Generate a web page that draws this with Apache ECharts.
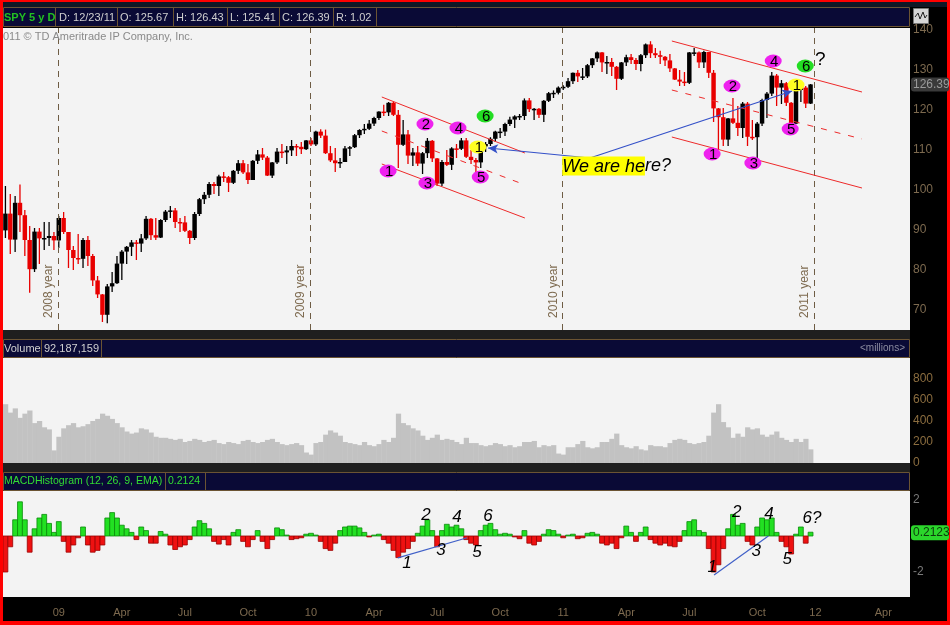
<!DOCTYPE html>
<html><head><meta charset="utf-8">
<script src="https://cdn.jsdelivr.net/npm/echarts@6/dist/echarts.min.js"></script>
<style>html,body{margin:0;padding:0;background:#000;}#c{width:950px;height:625px;}</style>
</head><body><div id="c"></div>
<script>
// ---- DATA (weekly, index 0 = week ending 2008-10-17) ----
const priorClose = 89.9;
const closes = [
94.1,87.6,96.8,93.7,87.5,80.2,89.6,87.9,88.0,88.5,
87.4,93.0,89.5,85.0,83.0,82.8,87.5,83.5,77.4,73.9,
68.8,75.9,76.7,81.6,84.6,85.8,86.9,86.6,87.9,92.8,
88.7,88.1,92.5,94.6,94.9,92.0,91.9,89.8,88.0,94.0,
97.7,98.8,101.5,101.0,103.4,103.2,101.8,104.8,106.7,104.4,
102.5,107.3,108.9,108.1,103.6,106.9,109.6,109.4,109.9,111.0,
110.8,110.2,112.4,111.4,114.6,113.6,109.2,107.4,106.7,107.0,
110.4,110.7,113.7,115.0,115.3,116.6,118.0,119.6,119.4,121.8,
118.8,111.3,113.9,108.6,109.4,106.6,109.2,112.3,107.9,101.6,
107.0,106.3,110.4,110.3,112.4,108.3,107.5,106.9,110.9,111.5,
112.8,114.6,114.6,116.5,117.6,118.4,118.5,122.4,120.2,120.3,
118.8,122.3,124.2,124.3,125.6,125.8,127.2,129.3,128.4,128.4,
131.2,132.9,134.4,131.9,132.0,130.8,127.8,131.9,133.2,132.5,
131.5,133.7,136.4,134.2,133.7,133.3,132.4,130.4,127.6,127.1,
126.8,134.4,134.4,131.9,134.5,129.3,120.4,118.2,112.6,117.9,
116.8,115.5,121.6,113.3,113.2,116.6,122.5,124.1,128.6,125.6,
126.7,121.8,116.6,125.0,125.6,121.6,126.4];
const highs = [
101,99,98.5,101.4,95,91,90.5,90.5,92,92,
89.5,93.5,94.5,89.5,86,89,88,88.5,84,78.5,
74,76.5,79.5,83.5,85,86,87.5,87.5,89,93.5,
93,93,92.7,95,96,95.5,93,93.5,90,94.5,
98,99.5,102,102,103.8,104.5,103.5,105,107.5,107.5,
106.5,107.5,110,110.5,108.5,107,110.5,111.5,111,112.5,
111.5,112,112.5,113,114.8,115.2,115.1,111,110.5,108,
111,111,114,115.2,116.5,117.5,118.3,119.7,121.3,122,
122.1,120,117.5,115,110.5,111,109.5,113,112.5,108,
107.5,110,110.7,111.5,113,113,110,108,111,112,
113.2,114.8,115.5,116.8,118.3,118.7,119,122.9,123,120.5,
120.5,122.5,124.5,124.9,125.9,126.2,128,129.4,130,130.5,
131.5,133,134.6,134.5,133.5,133,131,132,133.8,134,
133,134,136.6,137.2,135.5,134.8,133.5,134,130.5,130,
129.5,134.5,135.5,134.6,134.8,134.5,130,120.5,120.5,118,
123,121,122,122,117.5,117,122.8,124.5,129.5,129,
127.5,127,122,125.5,126.5,126,126.5];
const lows = [
88,84,84.5,89.5,83.5,74.3,79.5,81.5,85,86,
85,85.5,89,80.5,80,81.5,80.5,81,76,73,
67,66.7,74.5,76.5,77.5,81.5,83.5,82.5,84.5,87.5,
87.5,87.5,88,92,93,90.5,89.5,89.5,86.5,87.5,
93.5,96.5,98,99,98.5,102,99.5,101.5,104,104,
101.5,102.5,106.5,107.5,103.5,103,106.5,108,106.5,108.5,
108.5,109,110,111,111,113,109,107,104.5,105.5,
107,108.5,110.5,113,114,115,116,117.5,118.5,118.5,
118.5,105.5,111,106.5,106,106,104,108,107,101,
101,106,105,108,110,108,106.5,104,105.5,109.5,
111,112,113,113.5,116,115.5,117.5,117.5,119.5,117.5,
118,117,122,123,123.9,125,125.5,126.5,127,127.5,
128,130.5,132,129.5,129,128.5,125,127.5,131,131.5,
130,129.7,133,133,133,131.5,131,129.5,127.5,126,
126,126.5,133.5,130.5,130.5,128,117,110,111,111,
116.5,113.5,113,111,112.5,107.4,116,118,123.5,121,
121.5,121,115.6,116.5,122,120.5,121.5];
const volumes = [ // millions
560,480,520,430,470,500,380,400,340,320,
120,250,330,360,380,340,350,370,400,420,
470,450,420,380,340,300,280,290,330,320,
290,250,240,240,230,220,230,200,210,230,
220,200,210,220,190,180,200,190,180,210,
220,200,190,200,220,230,200,180,170,180,
190,170,100,80,190,200,270,310,290,260,
200,190,180,170,200,170,160,180,220,200,
240,470,380,360,330,310,260,220,240,270,
220,230,220,200,180,240,190,190,170,160,
170,190,180,160,170,150,160,200,200,210,
150,170,160,170,90,80,150,150,180,210,
150,140,150,200,200,230,280,170,150,140,
160,130,120,170,160,160,150,190,220,230,
220,190,180,190,200,260,480,560,390,340,
240,280,250,340,320,330,270,250,270,300,
240,220,200,230,200,230,130];
const macdHist = [
-2.0,-0.6,0.9,1.9,0.9,-0.9,0.4,1.0,1.2,0.7,
0.2,0.8,-0.3,-0.9,-0.5,-0.1,0.5,-0.5,-0.9,-0.8,
-0.5,1.0,1.3,1.0,0.6,0.4,0.2,-0.2,0.5,0.3,
-0.4,-0.4,0.25,0.1,-0.5,-0.75,-0.6,-0.5,-0.2,0.5,
0.85,0.7,0.4,-0.3,-0.45,-0.2,-0.5,0.2,0.35,-0.3,
-0.6,-0.2,0.3,-0.3,-0.7,-0.2,0.45,0.35,0.05,-0.2,
-0.15,-0.1,0.1,0.15,0.05,-0.3,-0.7,-0.8,-0.4,0.3,
0.5,0.55,0.55,0.45,0.2,-0.05,0.05,0.1,-0.2,-0.4,
-0.8,-1.2,-0.9,-0.7,-0.3,0.15,0.55,0.9,0.3,-0.6,
0.3,0.65,0.5,0.6,0.4,-0.2,-0.4,-0.5,0.3,0.6,
0.7,0.35,0.1,0.15,0.1,-0.05,-0.15,0.3,-0.4,-0.5,
-0.3,0.1,0.35,0.3,0.1,-0.1,0.05,0.1,-0.15,-0.1,
0.15,0.2,0.1,-0.4,-0.5,-0.4,-0.7,-0.1,0.55,0.2,
-0.3,0.2,0.5,-0.2,-0.4,-0.5,-0.4,-0.55,-0.6,-0.3,
0.3,0.8,0.9,0.3,0.2,-0.7,-2.0,-1.6,-0.7,0.4,
1.2,0.6,0.7,-0.3,-0.5,0.5,1.0,0.9,1.0,0.2,
-0.3,-0.6,-1.0,0.1,0.5,-0.4,0.21];
const totalWeeks = 187;
const xTickIdx = [11,24,37,50,63,76,89,102,115,128,141,155,167,181];
const xTickLabels = ['09','Apr','Jul','Oct','10','Apr','Jul','Oct','11','Apr','Jul','Oct','12','Apr'];
const yearLineIdx = [10.8, 62.8, 114.8, 166.7];
const yearLabels = ['2008 year','2009 year','2010 year','2011 year'];
const priceTicks = [70,80,90,100,110,120,130,140];
const volTicks = [0,200,400,600,800];
const macdTicks = [-2,2];
const lastClose = 126.39, lastMacd = 0.2123;
const headerTexts = ['SPY 5 y D','D: 12/23/11','O: 125.67','H: 126.43','L: 125.41','C: 126.39','R: 1.02'];
const volHeader = ['Volume','92,187,159','<millions>'];
const macdHeader = ['MACDHistogram (12, 26, 9, EMA)','0.2124'];
const copyright = '011 \u00a9 TD Ameritrade IP Company, Inc.';
// annotations: [label, weekIdx, price, kind]
const wavePts = [
 ['1',78.9,104.75,'m'],['2',86.5,116.5,'m'],['3',86.9,101.75,'m'],['4',93.3,115.5,'m'],['5',97.9,103.25,'m'],['6',98.9,118.5,'g'],['1',97.4,110.75,'y'],
 ['1',145.7,109,'m'],['2',149.8,126,'m'],['3',154.1,106.75,'m'],['4',158.3,132.25,'m'],['5',161.8,115.25,'m'],['6',164.9,131,'g'],['1',163.0,126.25,'y']];
const channelLines = [ // [[x1,y1],[x2,y2], dashed?]
 [[77.6,123.25],[107.1,109.25],0],[[77.6,106.5],[107.1,93.0],0],[[77.6,114.75],[106.1,101.75],1],
 [[137.4,137.25],[176.6,124.5],0],[[137.4,113.25],[176.6,100.5],0],[[137.4,125],[176.6,112.75],1]];
const priceArrows = [[[120.5,108],[99.5,110.5]],[[120.5,108],[162.2,124.75]]];
const noteText = ['We are he','re?'];
const notePos = [114.8,106];
const questionPos = [168.0,132.5];
const macdPts = [
 ['1',82.8,-1.5],['2',86.7,1.17],['3',89.8,-0.78],['4',93.1,1.05],['5',97.2,-0.9],['6',99.5,1.1],
 ['1',145.7,-1.72],['2',150.8,1.33],['3',154.8,-0.83],['4',157.4,1.22],['5',161.2,-1.28],['6?',166.3,1.0]];
const macdLines = [[[-0.6,-2.9],[10.3,0.33]],[[80.9,-1.22],[95.2,-0.1]],[[146.1,-2.17],[157.3,0]]];

// ---- CHART ----
const FONT = '"Liberation Sans", Arial, sans-serif';
const BROWN = '#7d6a4f';
const chart = echarts.init(document.getElementById('c'), null, {renderer:'canvas'});
const kindColor = {m:'#ee22ee', g:'#22dd22', y:'#ffff22'};
const candleData = closes.map((c,i)=>[i, i?closes[i-1]:priorClose, c, highs[i], lows[i]]);
const grids = [
 {left:3, top:28, width:907, height:302},
 {left:3, top:358, width:907, height:105},
 {left:3, top:491, width:907, height:106}].map(g=>Object.assign(g,{show:true, backgroundColor:'#f3f3f3', borderWidth:0}));
const xAxes = [0,1,2].map(g=>({
  type:'value', gridIndex:g, min:-0.5, max:totalWeeks-0.5, show:true,
  axisLine:{show:false}, axisTick:{show:false}, splitLine:{show:false},
  axisLabel: g===2 ? {show:true, customValues:xTickIdx, formatter:v=>xTickLabels[xTickIdx.indexOf(v)], color:BROWN, fontSize:11, fontFamily:FONT, margin:10} : {show:false}
}));
function yAx(g,min,max,ticks,color){
  return {type:'value', gridIndex:g, position:'right', min:min, max:max,
   axisLine:{show:false}, axisTick:{show:false}, splitLine:{show:false},
   axisLabel:{customValues:ticks, color:color, fontSize:12, fontFamily:FONT, margin:3}};
}
const yAxes = [yAx(0,65,140.5,priceTicks,BROWN), yAx(1,0,1000,volTicks,'#8b6d3f'), yAx(2,-3.39,2.5,macdTicks,'#7a7a7a')];

const priceMarkLines = [];
yearLineIdx.forEach((x,k)=>priceMarkLines.push({xAxis:x, lineStyle:{color:'#6e5c44', type:[6,5], width:1},
  label:{show:true, formatter:yearLabels[k], position:'insideStartTop', color:BROWN, fontSize:12, fontFamily:FONT, distance:[12,3], textBorderWidth:0}}));
channelLines.forEach(l=>priceMarkLines.push([{coord:l[0], lineStyle:{color:'#ee2a2a', width:1, type: l[2]?[6,8]:'solid'}},{coord:l[1]}]));
priceArrows.forEach(l=>priceMarkLines.push([{coord:l[0], lineStyle:{color:'#3350c8', width:1.2, type:'solid'}},{coord:l[1], symbol:'arrow', symbolSize:[7,10]}]));

const macdMarkLines = macdLines.map(l=>[{coord:l[0], lineStyle:{color:'#4060c8', width:1.2, type:'solid'}},{coord:l[1]}]);
const solid = {opacity:1, color:'#000'};
const noBorder = {textBorderWidth:0, textBorderColor:'transparent', textShadowBlur:0};

const option = {
 backgroundColor:'#000', animation:false,
 grid:grids, xAxis:xAxes, yAxis:yAxes,
 series:[
  {type:'custom', name:'SPY', xAxisIndex:0, yAxisIndex:0, data:candleData, encode:{x:0,y:[1,2,3,4]}, clip:true, z:2,
   renderItem:(p,api)=>{
     const i=api.value(0), o=api.value(1), c=api.value(2), h=api.value(3), l=api.value(4);
     const w=api.size([1,0])[0];
     const t=api.coord([i,Math.max(o,c)]), b=api.coord([i,Math.min(o,c)]);
     const hi=api.coord([i,h]), lo=api.coord([i,l]);
     const col = c<o ? '#e80000' : '#000000';
     return {type:'group', children:[
       {type:'line', shape:{x1:hi[0],y1:hi[1],x2:lo[0],y2:lo[1]}, style:{stroke:col, lineWidth:1.3}},
       {type:'rect', shape:{x:t[0]-w*0.46, y:t[1], width:w*0.92, height:Math.max(1.5,b[1]-t[1])}, style:{fill:col}}
     ]};
   }},
  {type:'scatter', name:'waves', xAxisIndex:0, yAxisIndex:0, z:5, symbol:'circle', symbolSize:[17,13], silent:true,
   itemStyle:{opacity:1},
   data: wavePts.map(w=>({value:[w[1],w[2]], name:w[0], itemStyle:{color:kindColor[w[3]], opacity:1}})),
   label:Object.assign({show:true, position:'inside', formatter:'{b}', color:'#000', fontSize:15, fontFamily:FONT, offset:[1,1]}, noBorder),
   markLine:{silent:true, symbol:['none','none'], label:{show:false}, data:priceMarkLines, animation:false}},
  {type:'scatter', name:'notes', xAxisIndex:0, yAxisIndex:0, z:6, symbolSize:0, silent:true, itemStyle:solid,
   data:[{value:notePos, name:'note', label:Object.assign({show:true, position:'right', distance:0,
            formatter:'{h|'+noteText[0]+'}{n|'+noteText[1]+'}',
            rich:{h:Object.assign({backgroundColor:'#ffff00', color:'#000', fontSize:18, fontStyle:'italic', fontFamily:FONT, padding:[1,0,0,0]}, noBorder),
                  n:Object.assign({color:'#000', fontSize:18, fontStyle:'italic', fontFamily:FONT}, noBorder)}}, noBorder)},
         {value:questionPos, name:'?', label:Object.assign({show:true, position:'inside', formatter:'?', color:'#000', fontSize:19, fontFamily:FONT}, noBorder)}]},
  {type:'custom', name:'Volume', xAxisIndex:1, yAxisIndex:1, data:volumes.map((v,i)=>[i,v]), encode:{x:0,y:1}, clip:true,
   renderItem:(p,api)=>{
     const i=api.value(0), v=api.value(1), w=api.size([1,0])[0];
     const t=api.coord([i,v]), b=api.coord([i,0]);
     return {type:'rect', shape:{x:t[0]-w/2, y:t[1], width:w+0.4, height:b[1]-t[1]}, style:{fill:'#c2c2c2'}};
   }},
  {type:'custom', name:'MACD', xAxisIndex:2, yAxisIndex:2, data:macdHist.map((v,i)=>[i,v]), encode:{x:0,y:1}, clip:true,
   renderItem:(p,api)=>{
     const i=api.value(0), v=api.value(1), w=api.size([1,0])[0];
     const t=api.coord([i,Math.max(v,0)]), b=api.coord([i,Math.min(v,0)]);
     const pos=v>=0;
     return {type:'rect', shape:{x:t[0]-w/2, y:t[1], width:w, height:Math.max(0.5,b[1]-t[1])},
       style:{fill: pos?'#22e022':'#ee1111', stroke: pos?'#0a8a0a':'#9a0000', lineWidth:0.8}};
   }},
  {type:'scatter', name:'macdNotes', xAxisIndex:2, yAxisIndex:2, z:6, symbolSize:0, silent:true, itemStyle:solid,
   data: macdPts.map(m=>({value:[m[1],m[2]], name:m[0]})),
   label:Object.assign({show:true, position:'inside', formatter:'{b}', color:'#000', fontSize:17, fontStyle:'italic', fontFamily:FONT}, noBorder),
   markLine:{silent:true, symbol:['none','none'], label:{show:false}, data:macdMarkLines, animation:false}}
 ]
};
chart.setOption(option);

// ---- chrome (headers, borders) ----
const NAVY='#0a0a36', EDGE='#6b5433', LT='#cfcfcf';
const T=(x,y,text,fill,extra)=>Object.assign({type:'text', x:x, y:y, z:100, style:Object.assign({text:text, fill:fill, font:'11px '+FONT, verticalAlign:'middle'}, extra||{})});
const R=(x,y,w,h,fill,stroke)=>({type:'rect', z:99, shape:{x:x,y:y,width:w,height:h}, style:{fill:fill, stroke:stroke||null, lineWidth:1}});
const V=(x,y1,y2)=>({type:'line', z:100, shape:{x1:x,y1:y1,x2:x,y2:y2}, style:{stroke:EDGE, lineWidth:1}});
const g=[];
g.push(R(0,2,950,5,'#101826'));
g.push(R(3.5,7.5,906,19,NAVY,EDGE));
const hx=[4,59,120,176,230,282,336], sx=[55,117,173,227,279,333,376];
headerTexts.forEach((t,k)=>g.push(T(hx[k],17.5,t,k?LT:'#22c022', k?null:{font:'bold 11px '+FONT})));
sx.forEach(x=>g.push(V(x+0.5,7.5,26.5)));
g.push(R(913.5,8.5,15,15,'#d6d6d6','#777'));
g.push({type:'polyline', z:101, shape:{points:[[915,17],[918,13],[920,19],[923,12],[925,18],[927,15]]}, style:{stroke:'#222', lineWidth:1, fill:null}});
g.push(T(3,37,copyright,'#8a8a8a',{font:'11px '+FONT}));
// separators between panels
g.push(R(3,330,907,9,'#1f1f1f'));
g.push(R(3,463,907,9,'#1f1f1f'));
// volume header
g.push(R(3.5,339.5,906,18,NAVY,EDGE));
g.push(T(4,348.5,volHeader[0],LT)); g.push(V(41.5,339.5,357.5));
g.push(T(44,348.5,volHeader[1],LT)); g.push(V(101.5,339.5,357.5));
g.push(T(905,348.5,volHeader[2],'#8c8ca0',{align:'right', font:'10px '+FONT}));
// macd header
g.push(R(3.5,472.5,906,18,NAVY,EDGE));
g.push(T(4,481.5,macdHeader[0],'#33dd33',{font:'10.5px '+FONT})); g.push(V(165.5,472.5,490.5));
g.push(T(168,481.5,macdHeader[1],'#33dd33',{font:'10.5px '+FONT})); g.push(V(205.5,472.5,490.5));
// last value boxes on the right axes (placed through the axis scales)
const yc = chart.convertToPixel({yAxisIndex:0}, lastClose);
g.push({type:'rect', z:100, shape:{x:911,y:yc-7,width:38,height:14,r:3}, style:{fill:'#3a3a3a'}});
g.push(T(913,yc,lastClose.toFixed(2),'#9a9a9a',{font:'12px '+FONT}));
const ym = chart.convertToPixel({yAxisIndex:2}, lastMacd);
g.push({type:'rect', z:100, shape:{x:911,y:ym-7,width:38,height:15,r:3}, style:{fill:'#2bd62b'}});
g.push(T(913,ym+0.5,lastMacd.toFixed(4),'#0d3a0d',{font:'12px '+FONT}));
// red frame
g.push(R(0,0,950,2,'#ff0000'));
g.push(R(0,0,3,625,'#ff0000'));
g.push(R(947,0,3,625,'#ff0000'));
g.push(R(0,621,950,4,'#ff0000'));
chart.setOption({graphic:g});
</script></body></html>
